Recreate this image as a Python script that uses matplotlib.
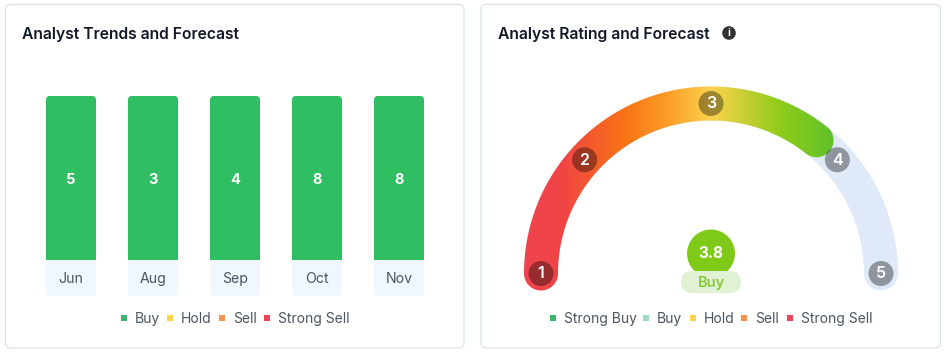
import numpy as np
import matplotlib
matplotlib.use('Agg')
import matplotlib.pyplot as plt
from matplotlib.colors import LinearSegmentedColormap
from matplotlib.patches import Circle, FancyBboxPatch, PathPatch, Rectangle
from matplotlib.path import Path

plt.rcParams['font.family'] = ['Inter', 'DejaVu Sans']

months = ['Jun', 'Aug', 'Sep', 'Oct', 'Nov']
buy = [5, 3, 4, 8, 8]
hold = [0, 0, 0, 0, 0]
sell = [0, 0, 0, 0, 0]
strong_sell = [0, 0, 0, 0, 0]

ratings = [1, 2, 3, 4, 5]
rating_angles = [180, 138, 90, 42, 0]
score = 3.8
score_label = 'Buy'

GREEN = '#30BE62'
LABEL = '#4B5563'
TITLE = '#111827'

W, H = 946, 355
fig = plt.figure(figsize=(W / 100, H / 100), dpi=100)
ax = fig.add_axes([0, 0, 1, 1])
ax.set_xlim(0, W)
ax.set_ylim(H, 0)


def card(x0, x1):
    ax.add_patch(FancyBboxPatch((x0 + 4, 8.5), x1 - x0 - 8, 335.5,
                                boxstyle='round,pad=4,rounding_size=5',
                                fc='white', ec='#D6E1EA', lw=0.8))


def legend(items):
    for x, colour, name in items:
        ax.add_patch(Rectangle((x - 3, 315), 6, 6, fc=colour, ec='none'))
        ax.text(x + 11, 323, name, fontsize=10, color=LABEL, va='baseline')


card(5.5, 464)
card(481, 940.5)

ax.text(22, 38.5, 'Analyst Trends and Forecast', fontsize=11.3, weight='semibold',
        color=TITLE, va='baseline')
ax.text(498, 38.5, 'Analyst Rating and Forecast', fontsize=11.3, weight='semibold',
        color=TITLE, va='baseline')
ax.add_patch(Circle((729, 33), 6.8, fc='#333333', ec='none'))
ax.text(729, 36.5, 'i', fontsize=7.5, weight='bold', color='white', ha='center', va='baseline')

# bars, one slot is 82 px wide starting at x=30
bar_ax = fig.add_axes([30 / W, (H - 260) / H, 410 / W, 164 / H])
bar_ax.set_xlim(-0.5, 4.5)
bar_ax.set_ylim(0, 1)
bar_ax.axis('off')
bar_ax.patch.set_alpha(0)

x = np.arange(len(months))
total = np.array(buy) + np.array(hold) + np.array(sell) + np.array(strong_sell)
bottom = np.zeros(len(months))
for counts, colour in [(buy, GREEN), (hold, '#FCD34D'), (sell, '#F59451'), (strong_sell, '#EF4458')]:
    share = np.array(counts) / total
    bars = bar_ax.bar(x, share, 50 / 82, bottom=bottom, color=colour, zorder=3)
    bottom += share
    for b in bars:
        px0, _ = ax.transData.inverted().transform(bar_ax.transData.transform((b.get_x(), 0)))
        clip = FancyBboxPatch((px0 + 4, 100), 42, 180, boxstyle='round,pad=4,rounding_size=4',
                              transform=ax.transData)
        b.set_clip_path(clip)

for i, (month, n) in enumerate(zip(months, buy)):
    px = 71 + 82 * i
    ax.add_patch(FancyBboxPatch((px - 21, 100), 42, 192, boxstyle='round,pad=4,rounding_size=5',
                                fc='#F1F7FE', ec='none'))
    ax.text(px, 283, month, fontsize=10.2, color=LABEL, ha='center', va='baseline')
    bar_ax.text(i, 0.465, str(n), fontsize=10.5, weight='bold', color='white',
                ha='center', va='baseline', zorder=5)

legend([(124, '#3CB46E', 'Buy'), (170, '#FCD34D', 'Hold'),
        (222, '#F59451', 'Sell'), (267, '#EF4458', 'Strong Sell')])

# gauge
cx, cy, r, band = 711, 273.5, 170, 34


def polar(angle, radius=r):
    a = np.radians(angle)
    return cx + radius * np.cos(a), cy - radius * np.sin(a)


def rating_angle(value):
    return np.interp(value, ratings, rating_angles)


def band_path(a0, a1):
    outer = np.linspace(a0, a1, 200)
    cap1 = np.linspace(a1, a1 - 180, 40)
    inner = np.linspace(a1, a0, 200)
    cap0 = np.linspace(a0 + 180, a0, 40)
    pts = [np.column_stack(polar(outer, r + band / 2))]
    ex, ey = polar(a1)
    pts.append(np.column_stack((ex + band / 2 * np.cos(np.radians(cap1)),
                                ey - band / 2 * np.sin(np.radians(cap1)))))
    pts.append(np.column_stack(polar(inner, r - band / 2)))
    sx, sy = polar(a0)
    pts.append(np.column_stack((sx + band / 2 * np.cos(np.radians(cap0)),
                                sy - band / 2 * np.sin(np.radians(cap0)))))
    return Path(np.vstack(pts))


ax.add_patch(PathPatch(band_path(180, 0), fc='#E0E9F8', ec='none', zorder=2))

cmap = LinearSegmentedColormap.from_list('gauge', [
    (0.00, '#EF4450'), (0.12, '#EF4444'), (0.32, '#F97316'), (0.45, '#FC9A26'),
    (0.60, '#FCD34D'), (0.82, '#8FCC1A'), (1.00, '#5FC02C')])
grad = np.linspace(0, 1, 512).reshape(1, -1)
im = ax.imshow(grad, cmap=cmap, extent=(524, 836, 300, 80), aspect='auto', zorder=3)
clip = PathPatch(band_path(180, rating_angle(score)), transform=ax.transData, fc='none', ec='none')
ax.add_patch(clip)
im.set_clip_path(clip)

for rating in ratings:
    mx, my = polar(rating_angle(rating))
    ax.add_patch(Circle((mx, my), 12.5, fc='black', alpha=0.36, ec='none', zorder=4))
    ax.text(mx, my + 5, str(rating), fontsize=11.5, weight='semibold', color='white',
            ha='center', va='baseline', zorder=5)

ax.add_patch(Circle((711, 253.5), 24, fc='#7FC919', ec='none', zorder=4))
ax.text(711, 258.5, f'{score}', fontsize=11, weight='bold', color='white',
        ha='center', va='baseline', zorder=5)
ax.add_patch(FancyBboxPatch((692, 282), 38, 0, boxstyle='round,pad=11,rounding_size=11',
                            fc='#E1F2D4', ec='none', zorder=5))
ax.text(711, 287, score_label, fontsize=10.5, weight='semibold', color='#86C940',
        ha='center', va='baseline', zorder=6)

legend([(553, '#3CB46E', 'Strong Buy'), (646, '#9BDDBB', 'Buy'), (693, '#FCD34D', 'Hold'),
        (744, '#F59451', 'Sell'), (790, '#EF4458', 'Strong Sell')])

ax.set_xlim(0, W)
ax.set_ylim(H, 0)
ax.axis('off')

fig.savefig('out.png', dpi=100, facecolor='white')
